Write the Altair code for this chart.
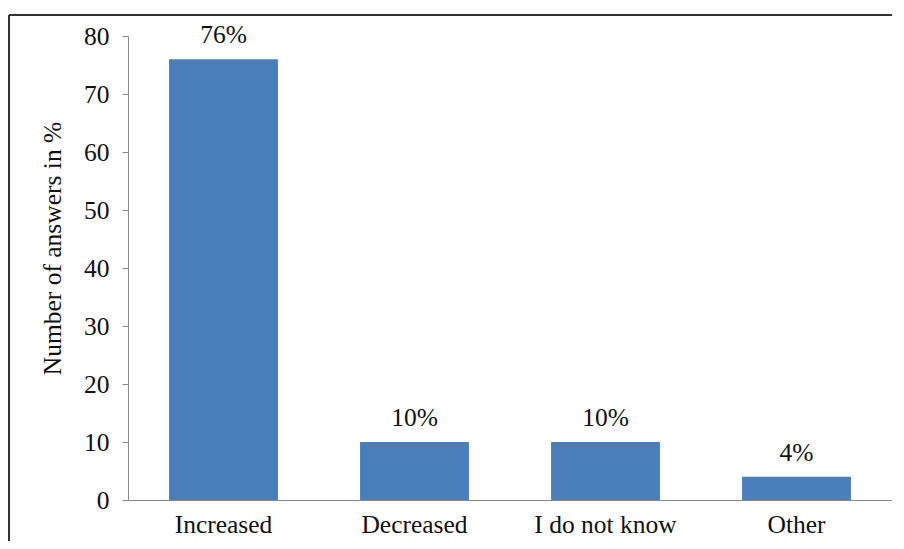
import altair as alt
import pandas as pd

categories = ["Increased", "Decreased", "I do not know", "Other"]
values = [76, 10, 10, 4]
labels = ["76%", "10%", "10%", "4%"]

df = pd.DataFrame({"cat": categories, "val": values, "lab": labels})

W, H = 764, 464
FONT = "Liberation Serif"
FS = 25.5

x = alt.X("cat:N", sort=categories, title=None,
          scale=alt.Scale(paddingInner=0.43, paddingOuter=0.215),
          axis=alt.Axis(labelAngle=0, labelFontSize=FS, labelColor="#111", labelFont=FONT,
                        ticks=False, domainColor="#888", labelPadding=12))
y = alt.Y("val:Q", title="Number of answers in %",
          scale=alt.Scale(domain=[0, 80], nice=False),
          axis=alt.Axis(values=list(range(0, 81, 10)), grid=False, domainColor="#888",
                        tickColor="#888", tickSize=6, labelFontSize=FS, labelFont=FONT,
                        labelColor="#111", labelPadding=13, titleFont=FONT,
                        titleFontSize=FS, titleFontWeight="normal", titleColor="#111",
                        titleX=-63, titleY=212))

bars = alt.Chart(df).mark_bar(color="#4A7EBB").encode(x=x, y=y)
text = alt.Chart(df).mark_text(baseline="bottom", dy=-11, fontSize=FS, font=FONT,
                               color="#111").encode(
    x=alt.X("cat:N", sort=categories), y="val:Q", text="lab:N")

frame_top = alt.Chart(df).mark_rule(color="#333", strokeWidth=2).encode(
    x=alt.value(-119), x2=alt.value(780), y=alt.value(-21))
frame_left = alt.Chart(df).mark_rule(color="#333", strokeWidth=2).encode(
    x=alt.value(-119), y=alt.value(-21), y2=alt.value(520))

chart = alt.layer(bars, text, frame_top, frame_left).properties(
    width=W, height=H,
    autosize=alt.AutoSizeParams(type="none"),
    padding={"left": 120, "top": 28, "right": 0, "bottom": 41},
).configure_view(stroke=None)

chart.save("out.html", embed_options={"renderer": "svg", "actions": False})
